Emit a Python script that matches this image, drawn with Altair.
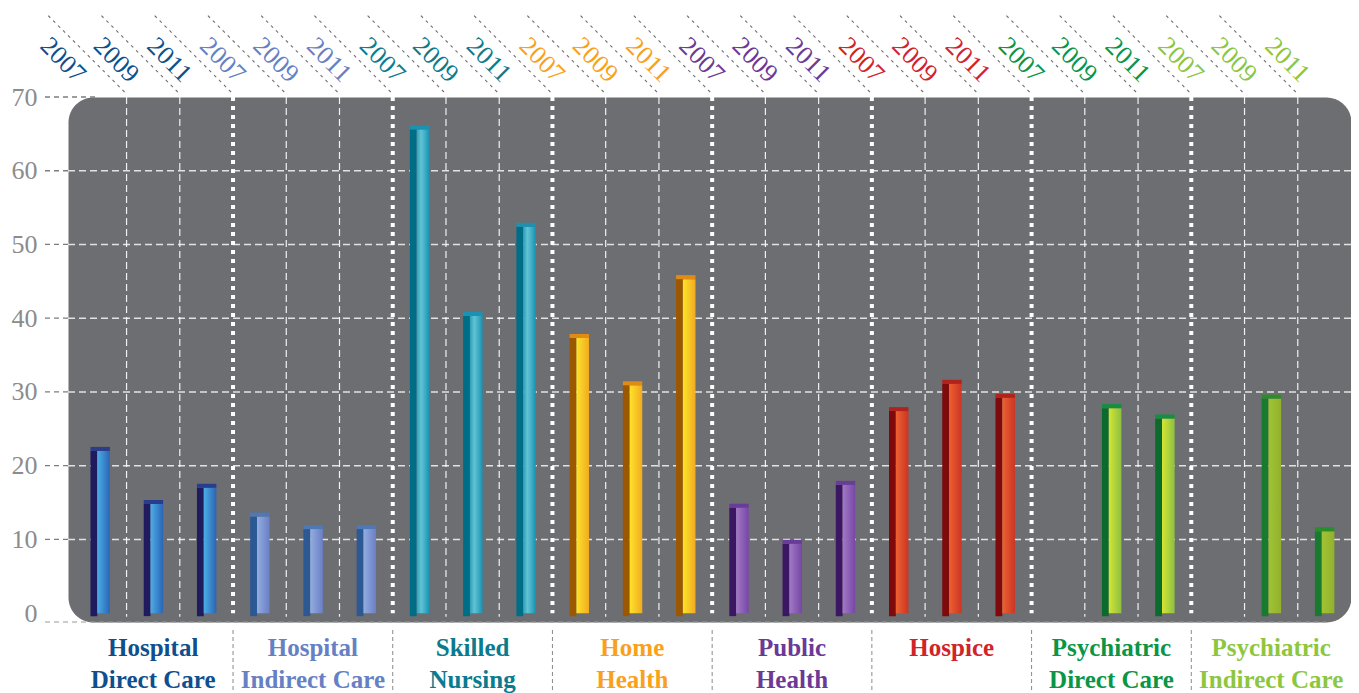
import altair as alt
import pandas as pd

# ---------------- data ----------------
groups = ["Hospital\nDirect Care", "Hospital\nIndirect Care", "Skilled\nNursing",
          "Home\nHealth", "Public\nHealth", "Hospice",
          "Psychiatric\nDirect Care", "Psychiatric\nIndirect Care"]
years = ["2007", "2009", "2011"]
hospital_direct = [22.0, 14.8, 17.0]
hospital_indirect = [13.1, 11.4, 11.4]
skilled_nursing = [65.6, 40.3, 52.4]
home_health = [37.3, 30.9, 45.3]
public_health = [14.3, 9.4, 17.4]
hospice = [27.4, 31.1, 29.2]
psych_direct = [None, 27.8, 26.4]
psych_indirect = [None, 29.1, 11.1]
series = [hospital_direct, hospital_indirect, skilled_nursing, home_health,
          public_health, hospice, psych_direct, psych_indirect]
y_ticks = [0, 10, 20, 30, 40, 50, 60, 70]

# ---------------- styles ----------------
side_colors = ["#1f1b5e", "#2c5894", "#006d86", "#9c5800", "#3b1662", "#7e0a0b", "#0b6b2c", "#177a2e"]
cap_colors = ["#2a3c8c", "#4d79b8", "#1a92b2", "#e08c12", "#6a3c9a", "#b0221c", "#12903f", "#2b8c2c"]
face_stops = [
    [(0, "#4aaee6"), (1, "#2c64b4")],
    [(0, "#93addf"), (1, "#6a7fc6")],
    [(0, "#2d9fb9"), (0.35, "#62c3d3"), (0.7, "#3aaac3"), (1, "#1592b4")],
    [(0, "#fde428"), (1, "#f2aa22")],
    [(0, "#a27ac6"), (1, "#7646a6")],
    [(0, "#ec6230"), (1, "#cc3424")],
    [(0, "#d5e532"), (1, "#8cc043")],
    [(0, "#a2c234"), (1, "#92b22e")],
]
label_colors = ["#0f4f8d", "#6680c4", "#0b7b8e", "#f9a11b", "#6b3996", "#d1232a", "#0a9547", "#8dc63f"]
SERIF = "Liberation Serif"
BG = "#6d6e71"

W, H = 1283, 525

# ---------------- tables ----------------
rows = []
for gi, vals in enumerate(series):
    for yi, yr in enumerate(years):
        rows.append(dict(gi=gi, slot=gi * 3 + yi, year=yr, value=vals[yi],
                         side=side_colors[gi], cap=cap_colors[gi], lc=label_colors[gi]))
slots_df = pd.DataFrame(rows)
bars_df = slots_df.dropna(subset=["value"]).reset_index(drop=True)

bounds = pd.DataFrame({"b": [s + 0.5 for s in range(len(slots_df) - 1)]})
bounds["grp"] = [((i + 1) % 3 == 0) for i in range(len(bounds))]
inner_b = bounds[~bounds["grp"]]
group_b = bounds[bounds["grp"]]

ticks_df = pd.DataFrame({"t": y_ticks})
inner_ticks = ticks_df[(ticks_df["t"] > 0) & (ticks_df["t"] < 70)]
top_tick = ticks_df[ticks_df["t"] == 70]

labels_df = pd.DataFrame({"label": groups,
                          "center": [gi * 3 + 1 for gi in range(len(groups))],
                          "lc": label_colors})

x_scale = alt.Scale(domain=[-0.6, 23.5], nice=False, zero=False)
y_scale = alt.Scale(domain=[-1.2, 70], nice=False, zero=False)

y_axis = alt.Axis(
    values=y_ticks, title=None, domain=False, ticks=False, grid=False,
    labelFont=SERIF, labelFontSize=26, labelColor="#8c8c8c", labelPadding=31,
)

X = lambda f: alt.X(f, type="quantitative", scale=x_scale, axis=None)
X2 = lambda f: alt.X2(f)
Y = lambda f: alt.Y(f, type="quantitative", scale=y_scale, axis=y_axis)
YD = lambda d: alt.YDatum(d, scale=y_scale, axis=y_axis)

# ---------------- layers ----------------
base_bars = alt.Chart(bars_df).transform_calculate(
    sx1="datum.slot - 0.178", sx2="datum.slot - 0.05", fx2="datum.slot + 0.187"
)

grid_rules = alt.Chart(inner_ticks).mark_rule(color="#e2e2e2", strokeDash=[7, 4], strokeWidth=1.5).encode(
    y=Y("t"), x=alt.value(0), x2=alt.value(W),
)

out_ticks = alt.Chart(inner_ticks).mark_rule(color="#7d7d7d", strokeDash=[5, 4], strokeWidth=1.3).encode(
    y=Y("t"), x=alt.value(-23), x2=alt.value(0),
)

out_top_tick = alt.Chart(top_tick).mark_rule(color="#7d7d7d", strokeDash=[5, 4], strokeWidth=1.3).encode(
    y=Y("t"), x=alt.value(-23), x2=alt.value(27),
)

inner_rules = alt.Chart(inner_b).mark_rule(color="#ffffff", strokeDash=[7, 4], strokeWidth=1.2, opacity=0.9).encode(
    x=X("b"),
    y=YD(70),
    y2=alt.Y2Datum(-0.5),
)

group_rules = alt.Chart(group_b).mark_rule(color="#ffffff", strokeDash=[4, 5], strokeWidth=4).encode(
    x=X("b"),
    y=YD(70),
    y2=alt.Y2Datum(0),
)

bottom_line = alt.Chart(group_b.head(1)).mark_rule(color="#9a9a9a", strokeDash=[5, 4], strokeWidth=1.2).encode(
    y=YD(-1.2),
    x=alt.value(-23),
    x2=alt.value(W - 25),
)

below_rules = alt.Chart(group_b).mark_rule(color="#8a8a8a", strokeDash=[4, 3], strokeWidth=1).encode(
    x=X("b"),
    y=alt.value(H + 8),
    y2=alt.value(H + 75),
)

diag_rules = alt.Chart(bounds).mark_rule(color="#6f6f6f", strokeDash=[3, 4], strokeWidth=1.1,
                                         xOffset=-2, x2Offset=-81).encode(
    x=X("b"),
    x2=X2("b"),
    y=alt.value(-5),
    y2=alt.value(-84),
)

sides = base_bars.mark_rect(y2Offset=3).encode(
    x=X("sx1:Q"), x2=X2("sx2:Q"),
    y=Y("value"),
    y2=alt.Y2Datum(0),
    color=alt.Color("side:N", scale=None),
)

faces = []
for gi, stops in enumerate(face_stops):
    grad = {"gradient": "linear", "x1": 0, "y1": 0, "x2": 1, "y2": 0,
            "stops": [{"offset": o, "color": c} for o, c in stops]}
    faces.append(
        base_bars.transform_filter(f"datum.gi == {gi}").mark_rect(fill=grad).encode(
            x=X("sx2:Q"), x2=X2("fx2:Q"),
            y=Y("value"),
            y2=alt.Y2Datum(0),
        )
    )

caps = base_bars.mark_rect(yOffset=-4).encode(
    x=X("sx1:Q"), x2=X2("fx2:Q"),
    y=Y("value"),
    y2=alt.Y2("value:Q"),
    color=alt.Color("cap:N", scale=None),
)

year_labels = alt.Chart(slots_df).mark_text(angle=45, xOffset=-37, align="center", baseline="middle",
                                            font=SERIF, fontSize=26).encode(
    x=X("slot"),
    y=alt.value(-37),
    text="year:N",
    color=alt.Color("lc:N", scale=None),
)

group_labels = alt.Chart(labels_df).mark_text(lineBreak="\n", lineHeight=32, align="center",
                                              baseline="alphabetic", font=SERIF, fontSize=25,
                                              fontWeight="bold").encode(
    x=X("center"),
    y=alt.value(H + 34),
    text="label:N",
    color=alt.Color("lc:N", scale=None),
)

chart = alt.layer(
    grid_rules, out_ticks, out_top_tick, inner_rules, group_rules, bottom_line, below_rules, diag_rules,
    sides, *faces, caps, year_labels, group_labels,
).properties(
    width=W, height=H,
    autosize=alt.AutoSizeParams(type="none"),
    padding={"left": 60, "top": 89, "right": 0, "bottom": 71},
).configure_view(
    fill=BG, stroke="transparent", cornerRadius=25
)

chart.save("out.html", embed_options={"renderer": "svg", "actions": False})
